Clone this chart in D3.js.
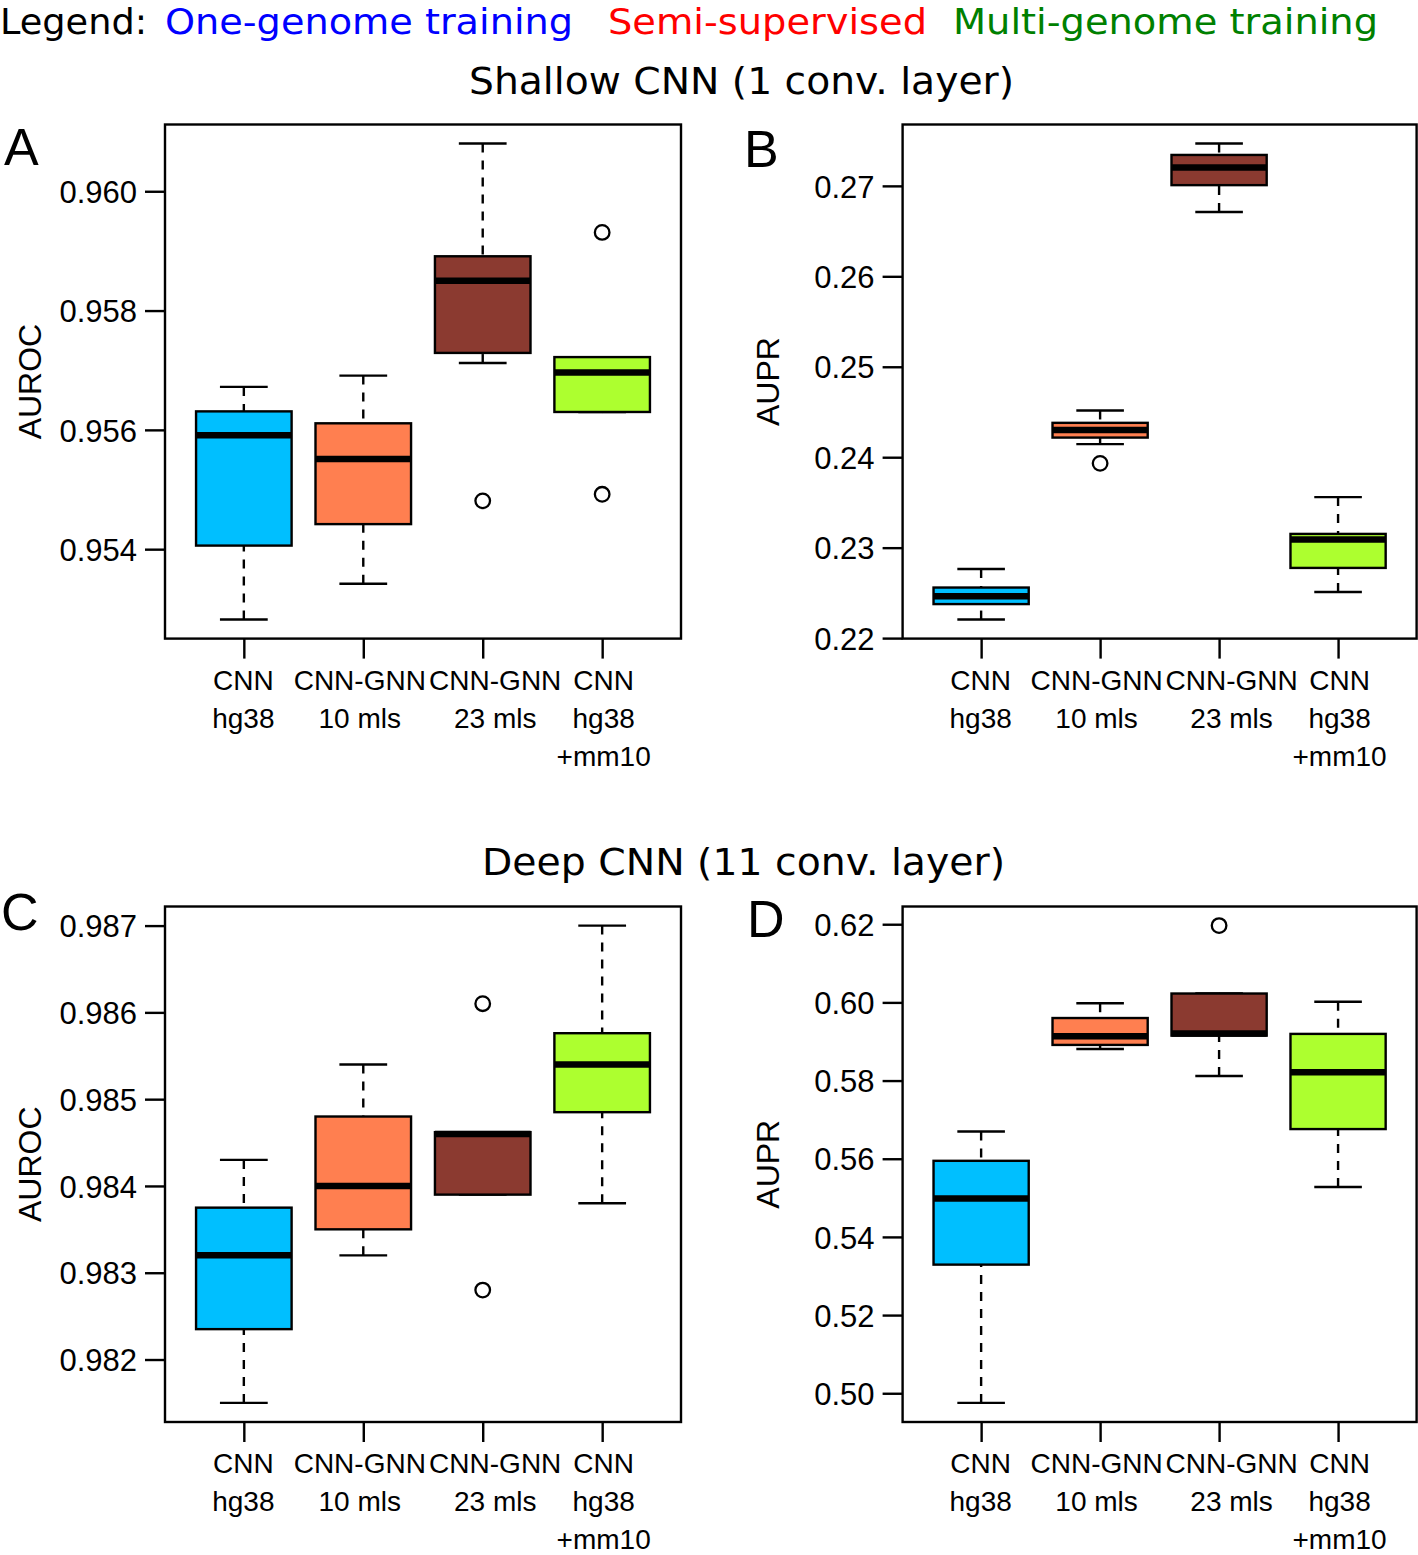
<!DOCTYPE html>
<html><head><meta charset="utf-8">
<script src="https://cdn.jsdelivr.net/npm/d3@7"></script>
<style>body{margin:0;background:#fff} svg{display:block}</style>
</head><body>
<svg id="chart" width="1418" height="1555"></svg>
<script>
// ---------- DATA ----------
const categories = [["CNN","hg38"],["CNN-GNN","10 mls"],["CNN-GNN","23 mls"],["CNN","hg38","+mm10"]];
const boxColors = ["#00BFFF","#FF7F50","#8B3A30","#ADFF2F"];
// five-number summaries per category: [lower whisker, Q1, median, Q3, upper whisker]
const shallowAuroc = [[0.95282,0.95406,0.95591,0.95631,0.95672],[0.95342,0.95442,0.95551,0.95611,0.95691],[0.95712,0.95729,0.95850,0.95891,0.96080],[0.95630,0.95630,0.95696,0.95722,0.95722]];
const shallowAurocOut = [[],[],[0.95481],[0.95931,0.95492]];
const shallowAupr = [[0.22205,0.22376,0.22464,0.22559,0.22764],[0.24145,0.24217,0.24300,0.24380,0.24517],[0.26711,0.27008,0.27202,0.27342,0.27468],[0.22510,0.22776,0.23091,0.23152,0.23559]];
const shallowAuprOut = [[],[0.23932],[],[]];
const deepAuroc = [[0.98150,0.98235,0.98320,0.98375,0.98430],[0.98320,0.98350,0.98400,0.98480,0.98540],[0.98390,0.98390,0.98460,0.98462,0.98462],[0.98380,0.98485,0.98540,0.98576,0.98700]];
const deepAurocOut = [[],[],[0.98610,0.98280],[]];
const deepAupr = [[0.49753,0.53291,0.54985,0.55947,0.56697],[0.58806,0.58912,0.59132,0.59600,0.59979],[0.58118,0.59150,0.59203,0.60227,0.60227],[0.55277,0.56759,0.58215,0.59194,0.60015]];
const deepAuprOut = [[],[],[0.61965],[]];
const ticksShallowAuroc = [0.954,0.956,0.958,0.960];
const ticksShallowAupr = [0.22,0.23,0.24,0.25,0.26,0.27];
const ticksDeepAuroc = [0.982,0.983,0.984,0.985,0.986,0.987];
const ticksDeepAupr = [0.50,0.52,0.54,0.56,0.58,0.60,0.62];
const legendItems = [["Legend:","#000000"],["One-genome training","#0000FF"],["Semi-supervised","#FF0000"],["Multi-genome training","#008000"]];
const titles = ["Shallow CNN (1 conv. layer)","Deep CNN (11 conv. layer)"];

// ---------- LAYOUT ----------
const svg = d3.select("#chart");
const HF = "'Liberation Sans', Arial, Helvetica, sans-serif";
const DF = "'DejaVu Sans', sans-serif";
const LW = 2.4;
const legendSpans = [[0,147],[165,573],[608,927],[953,1378]];
const titleSpans = [[469,1014,94],[482,1005,875]];
const labelShift = [-1,-4,12,1];

const panels = [
  {stats: shallowAuroc, out: shallowAurocOut, ticks: ticksShallowAuroc, fmt: d3.format(".3f"), ylab:"AUROC", letter:"A",
   x0:165, x1:681, y0:124.5, y1:638.6, lx:4, ly:165},
  {stats: shallowAupr, out: shallowAuprOut, ticks: ticksShallowAupr, fmt: d3.format(".2f"), ylab:"AUPR", letter:"B",
   x0:902.6, x1:1416.6, y0:124.5, y1:638.6, lx:744, ly:167},
  {stats: deepAuroc, out: deepAurocOut, ticks: ticksDeepAuroc, fmt: d3.format(".3f"), ylab:"AUROC", letter:"C",
   x0:165, x1:681, y0:906.5, y1:1422, lx:1, ly:930},
  {stats: deepAupr, out: deepAuprOut, ticks: ticksDeepAupr, fmt: d3.format(".2f"), ylab:"AUPR", letter:"D",
   x0:902.6, x1:1416.6, y0:906.5, y1:1422, lx:747, ly:937}
];

legendItems.forEach((d,i)=>{
  const [a,b] = legendSpans[i];
  svg.append("text").attr("x",a).attr("y",34).attr("font-family",DF).attr("font-size",36)
    .attr("fill",d[1]).attr("textLength",b-a).attr("lengthAdjust","spacingAndGlyphs").text(d[0]);
});
titles.forEach((t,i)=>{
  const [a,b,y] = titleSpans[i];
  svg.append("text").attr("x",a).attr("y",y).attr("font-family",DF).attr("font-size",38)
    .attr("fill","#000").attr("textLength",b-a).attr("lengthAdjust","spacingAndGlyphs").text(t);
});

panels.forEach(p=>{
  const g = svg.append("g");
  const all = p.stats.flat().concat(p.out.flat());
  const mn = d3.min(all), mx = d3.max(all), pad = (mx-mn)*0.04;
  const y = d3.scaleLinear().domain([mn-pad, mx+pad]).range([p.y1, p.y0]);
  const n = categories.length;
  const x = d3.scaleLinear().domain([0.5-0.04*n, n+0.5+0.04*n]).range([p.x0, p.x1]);
  const bw = x(0.8)-x(0), cw = x(0.4)-x(0);

  p.stats.forEach((s,i)=>{
    const cx = x(i+1);
    const [lo,q1,med,q3,hi] = s;
    g.append("line").attr("x1",cx).attr("x2",cx).attr("y1",y(hi)).attr("y2",y(q3))
      .attr("stroke","#000").attr("stroke-width",LW).attr("stroke-dasharray","9,8");
    g.append("line").attr("x1",cx).attr("x2",cx).attr("y1",y(lo)).attr("y2",y(q1))
      .attr("stroke","#000").attr("stroke-width",LW).attr("stroke-dasharray","9,8");
    [lo,hi].forEach(v=>g.append("line").attr("x1",cx-cw/2).attr("x2",cx+cw/2).attr("y1",y(v)).attr("y2",y(v))
      .attr("stroke","#000").attr("stroke-width",LW));
    g.append("rect").attr("x",cx-bw/2).attr("width",bw).attr("y",y(q3)).attr("height",y(q1)-y(q3))
      .attr("fill",boxColors[i]).attr("stroke","#000").attr("stroke-width",LW);
    g.append("line").attr("x1",cx-bw/2).attr("x2",cx+bw/2).attr("y1",y(med)).attr("y2",y(med))
      .attr("stroke","#000").attr("stroke-width",6.5);
    p.out[i].forEach(v=>g.append("circle").attr("cx",cx).attr("cy",y(v)).attr("r",7.3)
      .attr("fill","none").attr("stroke","#000").attr("stroke-width",2.3));
  });

  g.append("rect").attr("x",p.x0).attr("y",p.y0).attr("width",p.x1-p.x0).attr("height",p.y1-p.y0)
    .attr("fill","none").attr("stroke","#000").attr("stroke-width",LW);

  const ya = g.append("g").attr("transform",`translate(${p.x0},0)`)
    .call(d3.axisLeft(y).tickValues(p.ticks).tickFormat(p.fmt).tickSize(20).tickSizeOuter(0));
  ya.select(".domain").remove();
  ya.selectAll(".tick line").attr("stroke","#000").attr("stroke-width",LW);
  ya.selectAll(".tick text").attr("font-family",HF).attr("font-size",31).attr("fill","#000")
    .attr("x",-28).attr("dy","0.36em");

  const xa = g.append("g").attr("transform",`translate(0,${p.y1})`)
    .call(d3.axisBottom(x).tickValues(d3.range(1,n+1)).tickFormat("").tickSize(20).tickSizeOuter(0));
  xa.select(".domain").remove();
  xa.selectAll(".tick line").attr("stroke","#000").attr("stroke-width",LW);
  xa.selectAll(".tick").each(function(d,i){
    const t = d3.select(this).append("text").attr("font-family",HF).attr("font-size",28).attr("fill","#000")
      .attr("text-anchor","middle").attr("transform",`translate(${labelShift[i]},0)`);
    categories[i].forEach((line,j)=>t.append("tspan").attr("x",0).attr("y",51+38*j).text(line));
  });

  g.append("text").attr("font-family",HF).attr("font-size",32).attr("fill","#000").attr("text-anchor","middle")
    .attr("transform",`translate(${p.x0-124},${(p.y0+p.y1)/2}) rotate(-90)`).text(p.ylab);
  g.append("text").attr("font-family",HF).attr("font-size",52).attr("fill","#000")
    .attr("x",p.lx).attr("y",p.ly).text(p.letter);
});
</script>
</body></html>
